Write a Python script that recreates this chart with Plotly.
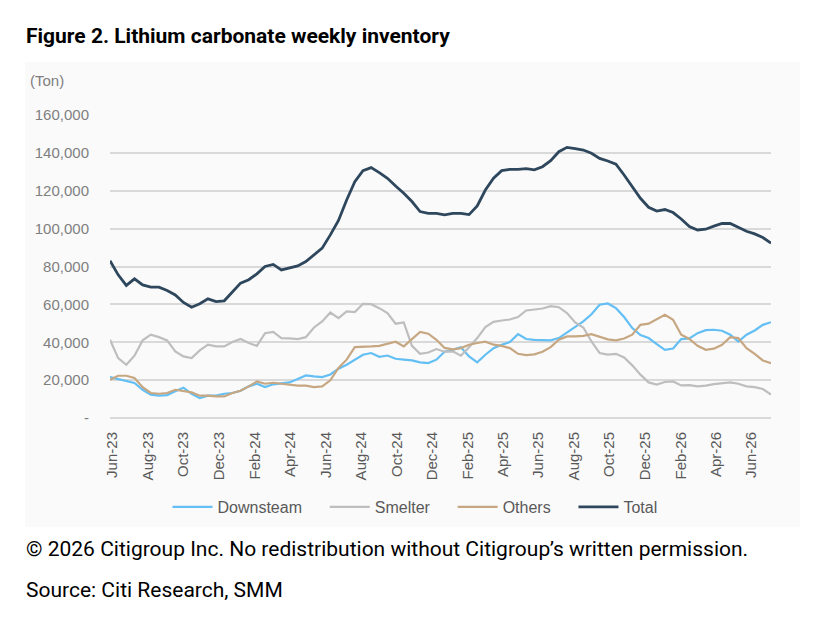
import pandas as pd
import plotly.graph_objects as go

# ---- data (tons), biweekly readings ----
start_date = "2023-05-28"

downstream = [21600, 20600, 19300, 18500, 14900, 12300, 11800, 12100, 14100, 16000, 12800,
              10500, 11800, 11800, 12800, 13200, 14400, 16700, 18100, 16300, 17800,
              18300, 18800, 20600, 22500, 22000, 21600, 23000, 26000, 28100, 30800,
              33400, 34300, 32300, 33000, 31300, 30800, 30400, 29400, 29000, 30800, 35000,
              36000, 37400, 32500, 29400, 33400, 36900, 38700, 40100, 44300, 41700,
              41300, 41000, 41000, 42200, 45200, 48300, 51000, 54800, 59800, 60500,
              58000, 53300, 47500, 43800, 42200, 39000, 36000, 36700, 41700, 42000,
              44800, 46400, 46600, 46100, 44000, 40400, 44000, 46200, 49200, 50600]

smelter = [41300, 31600, 28100, 32900, 41000, 44000, 42700, 41000, 35200, 32500, 31600,
           35700, 38700, 37800, 37800, 40100, 41700, 39600, 38100, 44800, 45500,
           42200, 42000, 41700, 42700, 47800, 51000, 55700, 52700, 56300, 55900,
           60300, 60100, 58000, 55400, 49800, 50500, 38100, 33900, 34600, 36400, 35000,
           35200, 32900, 37400, 42200, 48000, 50800, 51500, 52000, 53300, 56800,
           57300, 57800, 59100, 58500, 55400, 50500, 47800, 40400, 34300, 33500,
           33900, 32000, 27800, 22900, 18800, 17600, 19000, 19300, 17200, 17400,
           16700, 17100, 17900, 18500, 18800, 18100, 16700, 16300, 15300, 12300]

others = [20200, 22300, 22300, 21100, 16300, 13200, 12800, 13200, 14900, 14100, 13500,
          11800, 11800, 11400, 11400, 13200, 14400, 16700, 19300, 18100, 18600,
          18100, 17600, 17100, 17100, 16300, 16700, 19900, 26400, 30800, 37400,
          37400, 37800, 38100, 39000, 40300, 37800, 41700, 45400, 44500, 41300, 37000,
          36200, 36900, 38700, 39600, 40300, 38700, 38100, 36900, 33900, 33200,
          33600, 35000, 37400, 41300, 43100, 43100, 43400, 44300, 42700, 41500,
          41000, 42000, 44000, 49200, 49800, 52200, 54500, 51900, 44000, 41700,
          38100, 36000, 36600, 38700, 42700, 42200, 36900, 33900, 30400, 29000]

total = [83000, 75600, 70000, 73500, 70300, 69100, 69100, 67300, 65000, 61000, 58500,
         60300, 62900, 61500, 61900, 66800, 71200, 73000, 76100, 80000, 81100,
         78200, 79100, 80300, 82600, 86100, 89700, 96700, 104300, 115100, 124800,
         130600, 132200, 129600, 126600, 122500, 118700, 114300, 109000, 108100, 108100, 107300,
         108100, 108100, 107400, 112000, 120400, 126600, 130600, 131300, 131300, 131700,
         131000, 132700, 135900, 140600, 142900, 142200, 141500, 139800, 137100, 135700,
         134000, 128300, 121800, 116000, 111300, 109300, 110100, 108500, 105100, 101100,
         99300, 99700, 101300, 102800, 102700, 100700, 98600, 97200, 95300, 92300]

x_tick_dates = ["2023-06-01", "2023-08-01", "2023-10-01", "2023-12-01", "2024-02-01",
                "2024-04-01", "2024-06-01", "2024-08-01", "2024-10-01", "2024-12-01",
                "2025-02-01", "2025-04-01", "2025-06-01", "2025-08-01", "2025-10-01",
                "2025-12-01", "2026-02-01", "2026-04-01", "2026-06-01"]
x_tick_labels = ["Jun-23", "Aug-23", "Oct-23", "Dec-23", "Feb-24", "Apr-24", "Jun-24",
                 "Aug-24", "Oct-24", "Dec-24", "Feb-25", "Apr-25", "Jun-25", "Aug-25",
                 "Oct-25", "Dec-25", "Feb-26", "Apr-26", "Jun-26"]
y_tick_vals = [0, 20000, 40000, 60000, 80000, 100000, 120000, 140000, 160000]
y_tick_labels = ["-", "20,000", "40,000", "60,000", "80,000", "100,000", "120,000",
                 "140,000", "160,000"]

dates = pd.date_range(start_date, periods=len(total), freq="14D")

pad = "\u00a0" * 4  # spacing after legend labels
series = [
    ("Downsteam", downstream, "#63bff4", 2.2),
    ("Smelter", smelter, "#bebebe", 2.2),
    ("Others", others, "#c6a782", 2.2),
    ("Total", total, "#2e475d", 2.8),
]

fig = go.Figure()
for i, (name, vals, color, w) in enumerate(series):
    label = name + (pad if i < len(series) - 1 else "")
    fig.add_trace(go.Scatter(x=dates, y=vals, mode="lines", name=label,
                             line=dict(color=color, width=w)))

# pixel -> paper helpers (plot area: x 110..771, y 115..418)
L, R, T, B = 110, 771, 115, 418
def px(x):
    return (x - L) / (R - L)
def py(y):
    return (B - y) / (B - T)

cond = "Roboto, Inter, sans-serif"
arial = "Liberation Sans, Arial, sans-serif"

fig.update_layout(
    width=815, height=622,
    margin=dict(l=L, r=815 - R, t=T, b=622 - B, autoexpand=False),
    paper_bgcolor="white", plot_bgcolor="rgba(0,0,0,0)",
    font=dict(family=arial, color="#595959"),
    showlegend=True,
    legend=dict(orientation="h", x=px(415), xanchor="center", y=py(507), yanchor="middle",
                font=dict(size=16, color="#595959", family=arial),
                bgcolor="rgba(0,0,0,0)", itemwidth=40, tracegroupgap=0),
    xaxis=dict(type="date", range=[dates[0], dates[-1]], tickvals=x_tick_dates,
               ticktext=x_tick_labels, tickangle=-90, showgrid=False, zeroline=False,
               showline=False, ticks="", ticklabelstandoff=10,
               tickfont=dict(size=15, color="#595959", family=arial)),
    yaxis=dict(range=[0, 160000], tickvals=y_tick_vals, ticktext=y_tick_labels,
               showgrid=True, gridcolor="#d9d9d9", gridwidth=1.5, zeroline=True,
               zerolinecolor="#d9d9d9", zerolinewidth=1.5, showline=False, ticks="",
               ticklabelstandoff=20,
               tickfont=dict(size=15, color="#7f7f7f", family=arial)),
    shapes=[dict(type="rect", xref="paper", yref="paper", x0=px(25), x1=px(800),
                 y0=py(527), y1=py(62), fillcolor="#fafafa", line=dict(width=0),
                 layer="below")],
    annotations=[
        dict(text="<b>Figure 2. Lithium carbonate weekly inventory</b>", xref="paper",
             yref="paper", x=px(24), y=py(36), xanchor="left", yanchor="middle",
             showarrow=False, font=dict(size=21, color="#000000", family=cond)),
        dict(text="(Ton)", xref="paper", yref="paper", x=px(28), y=py(80),
             xanchor="left", yanchor="middle", showarrow=False,
             font=dict(size=15, color="#7f7f7f", family=arial)),
        dict(text="\u00a9 2026 Citigroup Inc. No redistribution without Citigroup\u2019s written permission.",
             xref="paper", yref="paper", x=px(24), y=py(549), xanchor="left",
             yanchor="middle", showarrow=False,
             font=dict(size=21, color="#000000", family=cond)),
        dict(text="Source: Citi Research, SMM", xref="paper", yref="paper", x=px(24),
             y=py(590), xanchor="left", yanchor="middle", showarrow=False,
             font=dict(size=21, color="#000000", family=cond)),
    ],
)

fig.write_html("out.html")
